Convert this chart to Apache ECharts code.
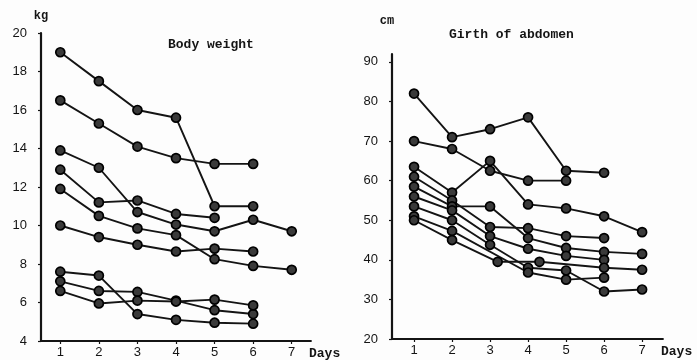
<!DOCTYPE html>
<html>
<head>
<meta charset="utf-8">
<script src="https://cdn.jsdelivr.net/npm/echarts@6/dist/echarts.min.js"></script>
<style>
  html, body { margin: 0; padding: 0; background: #fdfdfd; }
  #chart { width: 697px; height: 360px; }
</style>
</head>
<body>
<div id="chart"></div>
<script>
// Days of observation
const days = [1, 2, 3, 4, 5, 6, 7];
const dayTicks = [1, 2, 3, 4, 5, 6, 7];

// Body weight (kg) per patient, by day (null = not measured)
const weightA = [19.0, 17.5, 16.0, 15.6, 11.0, 11.0, null];
const weightB = [16.5, 15.3, 14.1, 13.5, 13.2, 13.2, null];
const weightC = [13.9, 13.0, 10.7, 10.05, 9.7, 10.3, 9.7];
const weightD = [12.9, 11.2, 11.3, 10.6, 10.4, null, null];
const weightE = [11.9, 10.5, 9.85, 9.5, 8.25, 7.9, 7.7];
const weightF = [10.0, 9.4, 9.0, 8.65, 8.8, 8.65, null];
const weightG = [7.6, 7.4, 5.4, 5.1, 4.95, 4.9, null];
const weightH = [7.1, 6.6, 6.55, 6.1, 5.6, 5.4, null];
const weightI = [6.6, 5.95, 6.1, 6.05, 6.15, 5.85, null];
const weightTicks = [4, 6, 8, 10, 12, 14, 16, 18, 20];

// Girth of abdomen (cm) per patient, by day (null = not measured)
const girthA = [82, 71, 73, 76, 62.5, 62, null];
const girthB = [70, 68, 62.5, 60, 60, null, null];
const girthC = [63.5, 57, 65, 54, 53, 51, 47];
const girthD = [61, 55, 48.3, 48, 46, 45.5, null];
const girthE = [58.5, 53.5, 53.5, 45.5, 43, 42, 41.5];
const girthF = [56, 52.5, 46, 42.8, 41, 40, null];
const girthG = [53.5, 50, 43.8, 38, 37.3, 32, 32.5];
const girthH = [51, 47.3, null, 36.8, 35, 35.5, null];
const girthI = [50, 45, 39.5, 39.5, null, 38, 37.5];
// the last patient was measured off-schedule on the 3rd and 4th day
const girthIDays = [1, 2, 3.2, 4.3, 5, 6, 7];
const girthTicks = [20, 30, 40, 50, 60, 70, 80, 90];

const ink = '#141414';
const numFont = 'Liberation Sans';
const typeFont = 'Liberation Mono';

function pairs(xs, ys) {
  const out = [];
  ys.forEach((v, i) => { if (v !== null) out.push([xs[i], v]); });
  return out;
}

function makeSeries(values, idx, xs) {
  return {
    type: 'line',
    xAxisIndex: idx,
    yAxisIndex: idx,
    data: pairs(xs || days, values),
    symbol: 'circle',
    symbolSize: 9,
    lineStyle: { color: ink, width: 1.9 },
    itemStyle: { color: '#3a3a3a', borderColor: '#000', borderWidth: 1.7 },
    z: 3,
    animation: false
  };
}

const weightSeries = [weightA, weightB, weightC, weightD, weightE, weightF, weightG, weightH, weightI]
  .map(v => makeSeries(v, 0));
const girthSeries = [girthA, girthB, girthC, girthD, girthE, girthF, girthG, girthH]
  .map(v => makeSeries(v, 1));
girthSeries.push(makeSeries(girthI, 1, girthIDays));

function xAxisFor(idx, min, max) {
  return {
    type: 'value',
    gridIndex: idx,
    min: min, max: max,
    name: 'Days',
    nameLocation: 'end',
    nameGap: -2,
    nameTextStyle: { fontFamily: typeFont, fontWeight: 'bold', fontSize: 13, color: ink,
                     verticalAlign: 'top', align: 'left', padding: [6, 0, 0, 0] },
    axisLine: { lineStyle: { color: ink, width: 1.8 } },
    axisTick: { show: true, length: 3, lineStyle: { color: ink, width: 1.2 }, customValues: dayTicks },
    axisLabel: { customValues: dayTicks, color: ink, fontFamily: numFont, fontSize: 13, margin: 5 },
    splitLine: { show: false }
  };
}

function yAxisFor(idx, min, max, ticks, unit, gap, pad) {
  return {
    type: 'value',
    gridIndex: idx,
    min: min, max: max,
    name: unit,
    nameLocation: 'end',
    nameGap: gap,
    nameTextStyle: { fontFamily: typeFont, fontWeight: 'bold', fontSize: 12, color: ink, padding: pad },
    axisLine: { show: true, lineStyle: { color: ink, width: 2.2 } },
    axisTick: { show: true, length: 3, lineStyle: { color: ink, width: 1.2 }, customValues: ticks },
    axisLabel: { customValues: ticks, color: ink, fontFamily: numFont, fontSize: 13, margin: 14 },
    splitLine: { show: false }
  };
}

const chart = echarts.init(document.getElementById('chart'), null, { renderer: 'canvas' });
chart.setOption({
  backgroundColor: '#fdfdfd',
  animation: false,
  title: [
    { text: 'Body weight', left: 163, top: 33,
      textStyle: { fontFamily: typeFont, fontWeight: 'bold', fontSize: 13, color: ink } },
    { text: 'Girth of abdomen', left: 444, top: 23,
      textStyle: { fontFamily: typeFont, fontWeight: 'bold', fontSize: 13, color: ink } }
  ],
  grid: [
    { left: 41, top: 33, width: 270, height: 310 },
    { left: 392, top: 54, width: 271, height: 285 }
  ],
  xAxis: [
    xAxisFor(0, 0.5, 7.5),
    xAxisFor(1, 0.42, 7.55)
  ],
  yAxis: [
    yAxisFor(0, 4, 20, weightTicks, 'kg', 11, [0, 0, 0, 0]),
    yAxisFor(1, 20, 92, girthTicks, 'cm', 27, [0, 10, 0, 0])
  ],
  series: weightSeries.concat(girthSeries)
});
</script>
</body>
</html>
